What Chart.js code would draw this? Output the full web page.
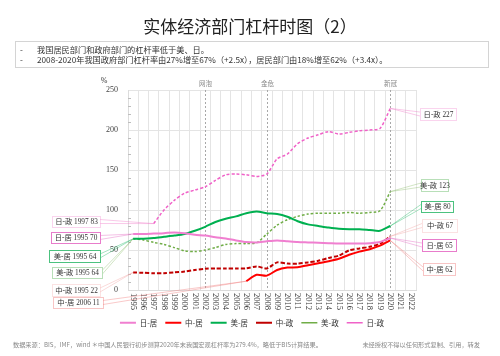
<!DOCTYPE html>
<html><head><meta charset="utf-8">
<script src="https://cdn.jsdelivr.net/npm/chart.js@4"></script>
<style>
html,body{margin:0;padding:0;background:#fff;}
#wrap{position:relative;width:500px;height:356px;overflow:hidden;font-family:'Noto Sans CJK SC',sans-serif;}
canvas{position:absolute;left:0;top:0;}
#title{position:absolute;left:0;width:500px;top:15px;text-align:center;font-size:17px;line-height:22px;color:#222;}
#notes{position:absolute;left:15px;top:41px;width:474px;height:27px;border:1px solid #d4d4d4;box-sizing:border-box;font-size:8.2px;color:#333;}
.nl{position:absolute;left:4px;white-space:nowrap;line-height:10px;}
.nl span{display:inline-block;width:17px;}
#footl{position:absolute;left:13px;top:341px;font-size:6.2px;line-height:8px;color:#888;white-space:nowrap;}
#footr{position:absolute;right:20px;top:341px;font-size:6.2px;line-height:8px;color:#888;white-space:nowrap;}
</style></head>
<body>
<div id="wrap">
<canvas id="c" width="500" height="356"></canvas>
<div id="title">实体经济部门杠杆时图（2）</div>
<div id="notes">
<div class="nl" style="top:2px"><span>-</span>我国居民部门和政府部门的杠杆率低于美、日。</div>
<div class="nl" style="top:12px"><span>-</span>2008-2020年我国政府部门杠杆率由27%增至67%（+2.5x），居民部门由18%增至62%（+3.4x）。</div>
</div>
<div id="footl">数据来源：BIS，IMF，wind ＊中国人民银行初步测算2020年末我国宏观杠杆率为279.4%，略低于BIS计算结果。</div>
<div id="footr">未经授权不得以任何形式复制、引用，转发</div>
</div>
<script>
// ---- data ----
const years = ['1995','1996','1997','1998','1999','2000','2001','2002','2003','2004','2005','2006','2007','2008','2009','2010','2011','2012','2013','2014','2015','2016','2017','2018','2019','2020','2021','2022'];
const seriesNames = ['日-居','中-居','美-居','中-政','美-政','日-政'];
const jpHH  = [70,70,70.5,71,72,71,69,68,66,64.5,62,60,59.5,61,62,61,60,59.5,59,58.5,58,58,58,58.5,60,65,null,null];
const cnHH  = [null,null,null,null,null,null,null,null,null,null,null,11,19,18,25,28,28.5,31,33.5,36,39,44,48,51,55.5,62,null,null];
const usHH  = [64,64,65,66.5,68,70,74,79,85,89,92,96,98,96,95,91.5,86,82,80,78,76.5,76,76,75,74,80,null,null];
const cnGov = [22,21.5,21,21,22,23,25,26.5,27,27,27,27,29.5,27,34.5,33,33,34.5,36.5,40,43,49.5,52,54,58,67,null,null];
const usGov = [64,62.5,59.5,57,53,49,48,50,53,57,58,58,59,70,81,88,92,95,96,96,96,97,96,97,99,123,null,null];
const jpGov = [null,null,83,100,112,121,125,129,137,144,145,144,142,145,164,170,183,190,194,198,195,197,199,200,202,227,null,null];
const yTickLabels = [0,50,100,150,200,250];
const events = [['2002','网泡'],['2008','金危'],['2020','新冠']];

const seriesData = [jpHH,cnHH,usHH,cnGov,usGov,jpGov];
const colors = ['#F07FD0','#FF0000','#00B050','#C00000','#70AD47','#F062C8'];
const dashes = [[],[],[],[4,2],[2.5,2],[3,2]];
const widths = [2,2,2,2,1.5,1.5];

// annotation label layout: [seriesIndex, yearIndex, boxX, boxY, boxW, boxH, border, borderDash, leader, side]
const notes = [
  [5,2, 52,216,48,11,'#F5A8DC',[1,1],'rgba(240,120,200,0.5)','L'],
  [0,0, 51,232,49,11,'#E87CCB',[],'rgba(232,124,203,0.6)','L'],
  [2,0, 49,250,51,12,'#4CC27F',[],'rgba(0,176,80,0.45)','L'],
  [4,0, 52,267,50,11,'#B8DFB8',[],'rgba(112,173,71,0.4)','L'],
  [3,0, 52,284,48,12,'#F7C5C5',[1,1],'rgba(240,150,150,0.45)','L'],
  [1,11,53,297,50,11,'#F08A8A',[1,1],'rgba(240,120,120,0.5)','L'],
  [5,25,420,108,36,12,'#F5A8DC',[1,1],'rgba(240,120,200,0.5)','R'],
  [4,25,421,179,27,12,'#B8DFB8',[],'rgba(112,173,71,0.4)','R'],
  [2,25,421,201,32,11,'#4CC27F',[],'rgba(0,176,80,0.45)','R'],
  [3,25,422,219,35,13,'#F7C5C5',[1,1],'rgba(240,150,150,0.45)','R'],
  [0,25,422,239,34,12,'#E87CCB',[],'rgba(232,124,203,0.6)','R'],
  [1,25,423,263,32,12,'#F08A8A',[1,1],'rgba(240,120,120,0.5)','R']
];

const CJK = "'Noto Sans CJK SC'";
const SERIF = "'Liberation Serif','Noto Sans CJK SC'";

const extras = {
  id:'extras',
  beforeDatasetsDraw(chart){
    const {ctx, chartArea:a, scales:{x,y}} = chart;
    ctx.save();
    ctx.strokeStyle='#bdbdbd'; ctx.lineWidth=1;
    for(let v=10; v<250; v+=10){ if(v%50===0) continue; const py=Math.round(y.getPixelForValue(v))+0.5; ctx.beginPath(); ctx.moveTo(a.left,py); ctx.lineTo(a.left+3,py); ctx.stroke(); }
    ctx.strokeStyle='#a8a8a8'; ctx.setLineDash([2,2]);
    events.forEach(([yr,lab])=>{ const px=Math.round(x.getPixelForValue(years.indexOf(yr)))+0.5; ctx.beginPath(); ctx.moveTo(px,a.top); ctx.lineTo(px,a.bottom); ctx.stroke();
      ctx.fillStyle='#888'; ctx.font="6.5px "+CJK; ctx.textAlign='center'; ctx.textBaseline='middle'; ctx.fillText(lab,px,a.top-6); });
    ctx.restore();
  },
  afterDraw(chart){
    const {ctx, chartArea:a, scales:{x,y}} = chart;
    ctx.save();
    ctx.fillStyle='#333'; ctx.font="8.5px "+SERIF; ctx.textAlign='left'; ctx.textBaseline='middle';
    years.forEach((yr,i)=>{ const px=x.getPixelForValue(i); ctx.save(); ctx.translate(px,a.bottom+3); ctx.rotate(Math.PI/2); ctx.fillText(yr,0,0); ctx.restore(); });
    ctx.font="8px "+SERIF; ctx.textAlign='center'; ctx.fillText('%',104,81);
    notes.forEach(([si,yi,bx,by,bw,bh,border,bdash,leader,side])=>{
      const v=seriesData[si][yi];
      const px=x.getPixelForValue(yi), py=y.getPixelForValue(v);
      const ex = side==='L' ? bx+bw : bx, ey = by+bh/2;
      ctx.strokeStyle=leader; ctx.lineWidth=0.8; ctx.setLineDash([]);
      ctx.beginPath(); ctx.moveTo(px,py); ctx.lineTo(ex,ey-2); ctx.moveTo(px,py); ctx.lineTo(ex,ey+2); ctx.stroke();
      ctx.fillStyle='#fff'; ctx.fillRect(bx,by,bw,bh);
      ctx.strokeStyle=border; ctx.lineWidth=1; ctx.setLineDash(bdash);
      ctx.strokeRect(bx+0.5,by+0.5,bw,bh);
      ctx.setLineDash([]);
      const txt = side==='L' ? seriesNames[si]+' '+years[yi]+' '+v : seriesNames[si]+' '+v;
      ctx.fillStyle='#333'; ctx.font="7.3px "+SERIF; ctx.textAlign='center'; ctx.textBaseline='middle';
      ctx.fillText(txt,bx+bw/2+0.5,by+bh/2+1);
    });
    ctx.restore();
  }
};

new Chart(document.getElementById('c'),{
  type:'line',
  data:{labels:years, datasets: seriesNames.map((n,i)=>({label:n,data:seriesData[i],borderColor:colors[i],backgroundColor:colors[i],borderWidth:widths[i],borderDash:dashes[i],pointRadius:0,pointStyle:'line',tension:0.25,spanGaps:false,fill:false}))},
  options:{
    responsive:false, animation:false, devicePixelRatio:1,
    layout:{padding:{left:88,right:84,top:90,bottom:19.5}},
    scales:{
      x:{offset:true, grid:{offset:true,color:'#e4e4e4',drawTicks:false}, border:{color:'#dcdcdc'}, ticks:{display:false}, afterFit:s=>{s.height=21;}},
      y:{min:0,max:250,
         ticks:{stepSize:10,autoSkip:false,padding:10,color:'#444',font:{family:"'Liberation Serif'",size:8},callback:v=>yTickLabels.includes(v)?String(v):''},
         grid:{drawTicks:false,color:c=>(c.tick && c.tick.value%50===0)?'#e4e4e4':'rgba(0,0,0,0)'},
         border:{color:'#dcdcdc'}, afterFit:s=>{s.width=40;}}
    },
    plugins:{
      legend:{position:'bottom',labels:{usePointStyle:true,pointStyleWidth:16,boxHeight:7.5,padding:8,color:'#333',font:{family:CJK,size:7.5}}},
      tooltip:{enabled:false}
    }
  },
  plugins:[extras]
});
</script>
</body></html>
